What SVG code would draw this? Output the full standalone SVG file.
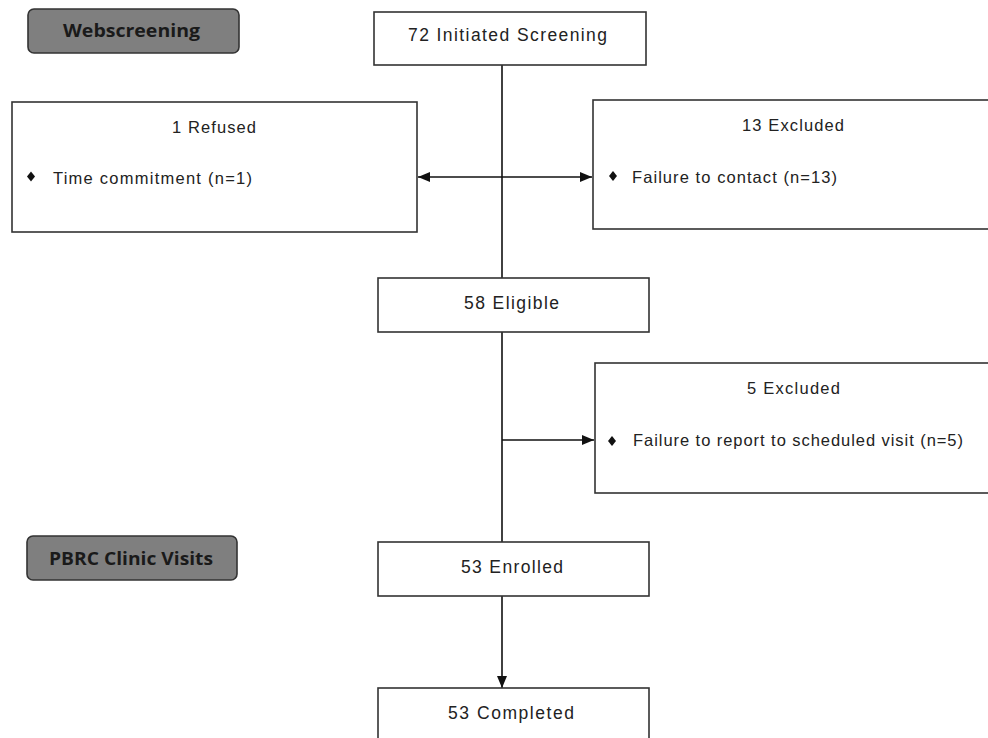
<svg xmlns="http://www.w3.org/2000/svg" width="988" height="738" viewBox="0 0 988 738">
<style>
.box{fill:#fff;stroke:#333;stroke-width:1.6}
.tag{fill:#7f7f7f;stroke:#333;stroke-width:1.6}
.t{font-family:"Liberation Sans",Arial,sans-serif;font-size:17.5px;fill:#222}
.s{font-family:"Liberation Sans",Arial,sans-serif;font-size:16.5px;fill:#222}
.tt{font-family:"Open Sans","Liberation Sans",sans-serif;font-weight:700;font-size:17px;fill:#1a1a1a}
.c{stroke:#111;stroke-width:1.6;fill:none}
.d{fill:#111}
</style>
<defs>
<marker id="ah" viewBox="0 0 12 10" refX="12" refY="5" markerWidth="12" markerHeight="10" markerUnits="userSpaceOnUse" orient="auto-start-reverse">
<path d="M0,0 L12,5 L0,10 Z" fill="#111"/>
</marker>
</defs>
<g id="connectors">
<line class="c" x1="502" y1="65" x2="502" y2="278"/>
<line class="c" x1="418" y1="177" x2="592" y2="177" marker-start="url(#ah)" marker-end="url(#ah)"/>
<line class="c" x1="502" y1="332" x2="502" y2="542"/>
<line class="c" x1="502" y1="440" x2="594" y2="440" marker-end="url(#ah)"/>
<line class="c" x1="502" y1="596" x2="502" y2="688" marker-end="url(#ah)"/>
</g>
<g id="tag-webscreening">
<rect class="tag" x="28" y="9" width="211" height="44" rx="6"/>
<text class="tt" x="63" y="37" textLength="137" lengthAdjust="spacingAndGlyphs">Webscreening</text>
</g>
<g id="tag-pbrc">
<rect class="tag" x="27" y="536" width="210" height="44" rx="6"/>
<text class="tt" x="49" y="565" textLength="164" lengthAdjust="spacingAndGlyphs">PBRC Clinic Visits</text>
</g>
<g id="initiated">
<rect class="box" x="374" y="12" width="272" height="53"/>
<text class="t" x="408" y="41" textLength="199">72 Initiated Screening</text>
</g>
<g id="refused">
<rect class="box" x="12" y="102" width="405" height="130"/>
<text class="s" x="172" y="133" textLength="84">1 Refused</text>
<path class="d" d="M31,171.5 L35,176.5 L31,181.5 L27,176.5 Z"/>
<text class="s" x="53" y="184" textLength="199">Time commitment (n=1)</text>
</g>
<g id="excluded13">
<rect class="box" x="593" y="100" width="410" height="129"/>
<text class="s" x="742" y="131" textLength="102">13 Excluded</text>
<path class="d" d="M613,171 L617,176 L613,181 L609,176 Z"/>
<text class="s" x="632" y="183" textLength="205">Failure to contact (n=13)</text>
</g>
<g id="eligible">
<rect class="box" x="378" y="278" width="271" height="54"/>
<text class="t" x="464" y="309" textLength="95">58 Eligible</text>
</g>
<g id="excluded5">
<rect class="box" x="595" y="363" width="410" height="130"/>
<text class="s" x="747" y="394" textLength="93">5 Excluded</text>
<path class="d" d="M612,436 L616,441 L612,446 L608,441 Z"/>
<text class="s" x="633" y="446" textLength="330">Failure to report to scheduled visit (n=5)</text>
</g>
<g id="enrolled">
<rect class="box" x="378" y="542" width="271" height="54"/>
<text class="t" x="461" y="573" textLength="102">53 Enrolled</text>
</g>
<g id="completed">
<rect class="box" x="378" y="688" width="271" height="60"/>
<text class="t" x="448" y="719" textLength="126">53 Completed</text>
</g>
</svg>
